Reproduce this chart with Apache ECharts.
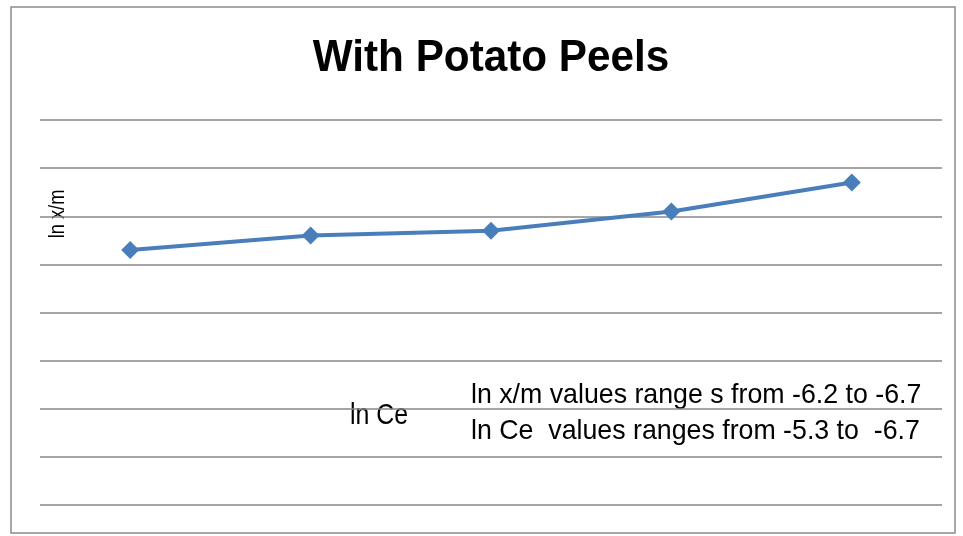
<!DOCTYPE html>
<html><head><meta charset="utf-8">
<script src="https://cdn.jsdelivr.net/npm/echarts@6/dist/echarts.min.js"></script>
<style>html,body{margin:0;padding:0;background:#fff}#c{width:963px;height:536px}</style>
</head><body><div id="c"></div>
<script>
const categories = ['1', '2', '3', '4', '5'];
const lnXm = [5.3, 5.6, 5.7, 6.1, 6.7];
const yMin = 0, yMax = 8, yStep = 1;
const titleText = 'With Potato Peels';
const yName = 'ln x/m';
const xName = 'ln Ce';
const note1 = 'ln x/m values range s from -6.2 to -6.7';
const note2 = 'ln Ce  values ranges from -5.3 to  -6.7';

const sans = '"Liberation Sans", Arial, sans-serif';
const chart = echarts.init(document.getElementById('c'));
chart.setOption({
  animation: false,
  backgroundColor: '#fff',
  grid: { left: 40, right: 21, top: 120, bottom: 31 },
  xAxis: { type: 'category', data: categories, boundaryGap: true,
    axisLine: { show: false }, axisTick: { show: false }, axisLabel: { show: false } },
  yAxis: { type: 'value', min: yMin, max: yMax, interval: yStep,
    axisLine: { show: false }, axisTick: { show: false }, axisLabel: { show: false },
    splitLine: { lineStyle: { color: '#878787', width: 1.5 } } },
  series: [{ type: 'line', data: lnXm, symbol: 'diamond', symbolSize: 18,
    lineStyle: { color: '#4a7ebb', width: 4 }, itemStyle: { color: '#4a7ebb' } }],
  graphic: [
    { type: 'rect', shape: { x: 11, y: 7, width: 944, height: 526 },
      style: { fill: null, stroke: '#8c8c8c', lineWidth: 1.5 }, silent: true },
    { type: 'text', x: 491, y: 59, scaleX: 0.96,
      style: { text: titleText, fontFamily: sans, fontWeight: 'bold', fontSize: 44, fill: '#000',
        textAlign: 'center', textVerticalAlign: 'middle' } },
    { type: 'text', x: 58, y: 214, rotation: Math.PI / 2, scaleX: 0.85,
      style: { text: yName, fontFamily: sans, fontSize: 21.5, fill: '#000',
        textAlign: 'center', textVerticalAlign: 'middle' } },
    { type: 'text', x: 379, y: 415.5, scaleX: 0.83,
      style: { text: xName, fontFamily: sans, fontSize: 30, fill: '#000',
        textAlign: 'center', textVerticalAlign: 'middle' } },
    { type: 'text', x: 471, y: 395, scaleX: 0.955,
      style: { text: note1, fontFamily: sans, fontSize: 28, fill: '#000',
        textAlign: 'left', textVerticalAlign: 'middle' } },
    { type: 'text', x: 471, y: 431, scaleX: 0.955,
      style: { text: note2, fontFamily: sans, fontSize: 28, fill: '#000',
        textAlign: 'left', textVerticalAlign: 'middle' } }
  ]
});
</script></body></html>
